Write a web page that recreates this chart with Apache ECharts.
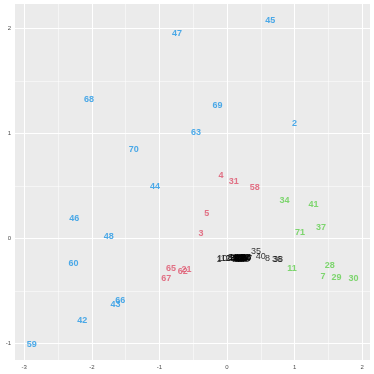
<!DOCTYPE html>
<html><head><meta charset="utf-8">
<script src="https://cdn.jsdelivr.net/npm/echarts@6/dist/echarts.min.js"></script>
<style>html,body{margin:0;padding:0;background:#fff}#c{width:374px;height:374px}</style>
</head><body><div id="c"></div>
<script>
// ---- data ----
var xTicks = [-3, -2, -1, 0, 1, 2];
var yTicks = [-1, 0, 1, 2];
var xMinor = [-2.5, -1.5, -0.5, 0.5, 1.5];
var yMinor = [-0.5, 0.5, 1.5];

var blueIds = ['45','47','68','69','63','2','70','44','46','48','60','66','43','42','59'];
var blueX   = [0.64,-0.74,-2.04,-0.14,-0.46,1.00,-1.38,-1.065,-2.26,-1.75,-2.27,-1.58,-1.65,-2.14,-2.89];
var blueY   = [2.08,1.95,1.33,1.27,1.01,1.10,0.845,0.50,0.19,0.023,-0.234,-0.59,-0.625,-0.78,-1.006];

var redIds = ['4','31','58','5','3','65','62','21','67'];
var redX   = [-0.09,0.10,0.41,-0.30,-0.385,-0.83,-0.655,-0.60,-0.90];
var redY   = [0.60,0.54,0.49,0.24,0.048,-0.28,-0.31,-0.295,-0.377];

var greenIds = ['34','41','71','37','11','28','7','29','30'];
var greenX   = [0.85,1.28,1.08,1.39,0.96,1.52,1.42,1.62,1.87];
var greenY   = [0.36,0.33,0.06,0.105,-0.28,-0.26,-0.36,-0.365,-0.375];

var blackIds = ['1','10','12','6','9','13','14','15','16','17','18','19','20','22','23','24','25','26','27','32','33','39','49','50','51','52','53','54','55','56','57','61','64','35','40','8','36','38'];
var blackX   = [-0.12,-0.07,-0.02,0.14,0.22,0.05,0.10,0.16,0.18,0.20,0.24,0.26,0.28,0.12,0.15,0.19,0.21,0.23,0.25,0.27,0.29,0.17,0.13,0.11,0.09,0.16,0.20,0.22,0.24,0.26,0.30,0.18,0.28,0.43,0.50,0.60,0.74,0.755];
var blackY   = [-0.195,-0.19,-0.19,-0.19,-0.18,-0.19,-0.18,-0.18,-0.19,-0.18,-0.19,-0.18,-0.19,-0.18,-0.20,-0.20,-0.19,-0.20,-0.19,-0.18,-0.18,-0.19,-0.19,-0.19,-0.18,-0.19,-0.20,-0.19,-0.18,-0.20,-0.19,-0.18,-0.18,-0.12,-0.165,-0.187,-0.20,-0.20];

function pts(ids, xs, ys) {
  return ids.map(function (id, i) { return { value: [xs[i], ys[i]], name: id }; });
}
function textSeries(ids, xs, ys, color, weight) {
  return {
    type: 'scatter', data: pts(ids, xs, ys), symbolSize: 1,
    itemStyle: { color: 'rgba(0,0,0,0)' }, silent: true, z: 5,
    labelLayout: { hideOverlap: false },
    label: { show: true, position: 'inside', formatter: '{b}', color: color,
      fontSize: 9, fontWeight: weight, fontFamily: 'Liberation Sans, Arial, sans-serif' }
  };
}
function gridLines(xs, ys, width) {
  var d = [];
  xs.forEach(function (v) { d.push({ xAxis: v }); });
  ys.forEach(function (v) { d.push({ yAxis: v }); });
  return {
    type: 'scatter', data: [], silent: true, z: 1,
    markLine: { silent: true, symbol: ['none', 'none'], animation: false,
      label: { show: false }, lineStyle: { color: '#ffffff', width: width, type: 'solid' },
      emphasis: { disabled: true }, data: d }
  };
}
function fmt(v) { return '' + v; }

var chart = echarts.init(document.getElementById('c'), null, { renderer: 'canvas' });
chart.setOption({
  animation: false,
  backgroundColor: '#ffffff',
  grid: { left: 15, right: 4, top: 4, bottom: 14, show: true, backgroundColor: '#EBEBEB', borderWidth: 0 },
  xAxis: {
    type: 'value', min: -3.136, max: 2.115,
    axisLine: { show: false },
    axisTick: { show: true, customValues: xTicks, length: 2.5, lineStyle: { color: '#333333', width: 0.6 } },
    axisLabel: { customValues: xTicks, fontSize: 6, color: '#4D4D4D', margin: 4, fontFamily: 'Liberation Sans, Arial, sans-serif', formatter: fmt },
    splitLine: { show: false }
  },
  yAxis: {
    type: 'value', min: -1.155, max: 2.235,
    axisLine: { show: false },
    axisTick: { show: true, customValues: yTicks, length: 2.5, lineStyle: { color: '#333333', width: 0.6 } },
    axisLabel: { customValues: yTicks, fontSize: 6, color: '#4D4D4D', margin: 4, fontFamily: 'Liberation Sans, Arial, sans-serif', formatter: fmt },
    splitLine: { show: false }
  },
  series: [
    gridLines(xMinor, yMinor, 0.5),
    gridLines(xTicks, yTicks, 1),
    textSeries(blackIds, blackX, blackY, '#000000', 'normal'),
    textSeries(redIds, redX, redY, '#DF536B', 'bold'),
    textSeries(greenIds, greenX, greenY, '#61D04F', 'bold'),
    textSeries(blueIds, blueX, blueY, '#2297E6', 'bold')
  ]
});
</script></body></html>
